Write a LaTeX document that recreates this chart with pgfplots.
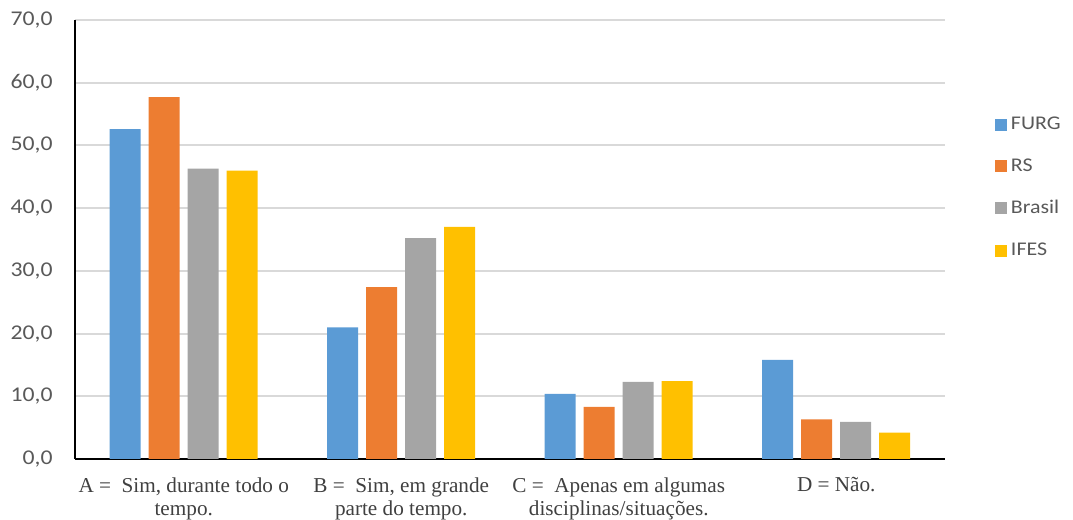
\documentclass[border=0pt]{standalone}
\usepackage{fontspec}
\setmainfont{Liberation Serif}
\newfontfamily\sansw[FakeStretch=1.13]{Carlito}
\usepackage{pgfplots}
\pgfplotsset{compat=1.18}
\definecolor{cFURG}{HTML}{5B9BD5}
\definecolor{cRS}{HTML}{ED7D31}
\definecolor{cBR}{HTML}{A5A5A5}
\definecolor{cIF}{HTML}{FFC000}
\definecolor{gridc}{HTML}{D9D9D9}
\definecolor{tickc}{HTML}{595959}
\definecolor{labc}{HTML}{404040}
\begin{document}
\begin{tikzpicture}
\begin{axis}[
  scale only axis,
  width=435pt, height=219.5pt,
  xmin=-0.5, xmax=3.5, ymin=0, ymax=70,
  ytick={0,10,...,70},
  xtick={0,1,2,3},
  xticklabels={{A =\ \ Sim, durante todo o\\tempo.},{B =\ \ Sim, em grande\\parte do tempo.},{C =\ \ Apenas em algumas\\disciplinas/situações.},{D = Não.}},
  major tick length=0pt,
  axis x line*=bottom, axis y line*=left,
  x axis line style={line width=1.2pt, black, -},
  y axis line style={line width=0.6pt, black, -},
  ymajorgrids,
  major grid style={line width=1pt, gridc},
  /pgf/number format/.cd, fixed, fixed zerofill, precision=1, use comma, assume math mode=true,
  /pgfplots/.cd,
  yticklabel style={font=\sansw\fontsize{10.5}{12}\selectfont, text=tickc, inner sep=0pt, anchor=east, xshift=-11pt},
  xticklabel style={font=\fontsize{10.6}{11.5}\selectfont, text=labc, inner sep=0pt, anchor=north, align=center, yshift=-9pt},
  legend style={at={(rel axis cs:1.057,0.618)}, anchor=west, draw=none, fill=none, inner sep=0pt,
    font=\sansw\fontsize{9.7}{12}\selectfont, text=tickc, row sep=9pt,
    /tikz/every even column/.append style={column sep=0pt}},
  legend cell align=left,
  legend image code/.code={\fill[#1] (0pt,-3pt) rectangle (6pt,3pt);},
]
\addplot[ybar, bar width=15.5pt, bar shift=-29.25pt, fill=cFURG, draw=none] coordinates {(0,52.6) (1,21.0) (2,10.4) (3,15.8)};
\addlegendentry{FURG}
\addplot[ybar, bar width=15.5pt, bar shift=-9.75pt, fill=cRS, draw=none] coordinates {(0,57.7) (1,27.4) (2,8.3) (3,6.3)};
\addlegendentry{RS}
\addplot[ybar, bar width=15.5pt, bar shift=9.75pt, fill=cBR, draw=none] coordinates {(0,46.3) (1,35.2) (2,12.3) (3,5.9)};
\addlegendentry{Brasil}
\addplot[ybar, bar width=15.5pt, bar shift=29.25pt, fill=cIF, draw=none] coordinates {(0,46.0) (1,37.0) (2,12.4) (3,4.2)};
\addlegendentry{IFES}
\end{axis}
\pgfresetboundingbox
\path[use as bounding box] (-37.5pt,-30.5pt) rectangle (499pt,229.5pt);
\end{tikzpicture}
\end{document}
